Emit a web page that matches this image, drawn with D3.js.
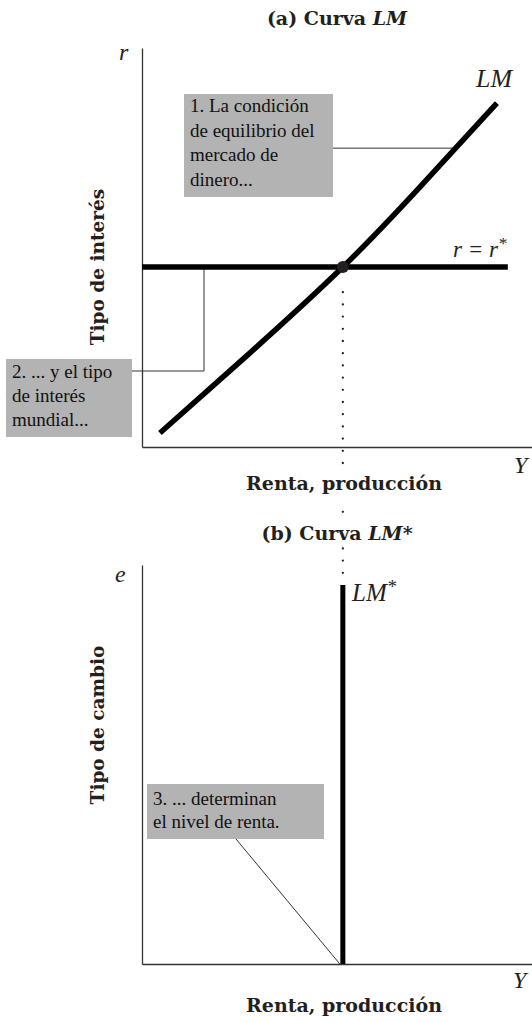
<!DOCTYPE html>
<html>
<head>
<meta charset="utf-8">
<script src="https://cdn.jsdelivr.net/npm/d3@7"></script>
<style>
  body { margin: 0; background: #fff; }
  svg { display: block; }
</style>
</head>
<body>
<svg id="chart" width="532" height="1022"></svg>
<script>
// ---- model values (income and rates on a 0–100 scale) ----
const lmIncome = [4.6, 27.7, 51.5, 71.3, 91.0];   // LM curve, income
const lmRate   = [3.5, 23.6, 45.1, 65.2, 86.2];   // LM curve, interest rate
const worldRate = 45.1;                            // r = r*
const worldRateSpan = [0, 93.8];                   // income extent of r*
const eqIncome = 51.5;                             // income where LM meets r*
const lmStarIncome = 51.5;                         // vertical LM* schedule
const lmStarSpan = [0, 95];                        // exchange-rate extent of LM*
const noteMoneyRate = 74.9;                        // rate where note 1 points at LM

// ---- text ----
const panelTitles = [["(a) Curva ", "LM", ""], ["(b) Curva ", "LM", "*"]];
const xTitle = "Renta, producción";
const yTitles = ["Tipo de interés", "Tipo de cambio"];
const noteMoney = ["1. La condición", "de equilibrio del", "mercado de", "dinero..."];
const noteWorld = ["2. ... y el tipo", "de interés", "mundial..."];
const noteIncome = ["3. ... determinan", "el nivel de renta."];

const SERIF = "'Liberation Serif', 'Times New Roman', serif";
const BOLD = "'DejaVu Serif', 'Liberation Serif', serif";
const INK = "#231f20";
const BOX = "#b3b3b3";

const svg = d3.select("#chart");

// shared income scale, one vertical scale per panel
const x = d3.scaleLinear().domain([0, 100]).range([142, 532]);
const yA = d3.scaleLinear().domain([0, 100]).range([447, 48]);
const yB = d3.scaleLinear().domain([0, 100]).range([964, 565]);

function drawAxes(y) {
  const bottom = y.range()[0];
  svg.append("g")
    .attr("transform", `translate(0,${bottom})`)
    .call(d3.axisBottom(x).ticks(0).tickSize(0).tickSizeOuter(0))
    .call(g => g.select(".domain").attr("stroke", "#333").attr("stroke-width", 1.3));
  svg.append("g")
    .attr("transform", `translate(${x(0)},0)`)
    .call(d3.axisLeft(y).ticks(0).tickSize(0).tickSizeOuter(0))
    .call(g => g.select(".domain").attr("stroke", "#333").attr("stroke-width", 1.3));
}
drawAxes(yA);
drawAxes(yB);

// dotted guide from the equilibrium down to LM*
svg.append("line")
  .attr("x1", x(eqIncome)).attr("x2", x(eqIncome))
  .attr("y1", yA(38.8)).attr("y2", yB(97.5))
  .attr("stroke", INK).attr("stroke-width", 2.3)
  .attr("stroke-linecap", "round")
  .attr("stroke-dasharray", "0 12.2");

// ---- annotation boxes ----
function note(lines, bx, by, bw, bh, firstBase, lineH) {
  svg.append("rect")
    .attr("x", bx).attr("y", by).attr("width", bw).attr("height", bh)
    .attr("fill", BOX);
  const t = svg.append("text")
    .attr("font-family", SERIF).attr("font-size", 19).attr("fill", "#111");
  lines.forEach((s, i) => {
    t.append("tspan").attr("x", bx + 6).attr("y", firstBase + i * lineH).text(s);
  });
}

// income on LM at a given rate (piecewise between the LM points)
function lmIncomeAt(rate) {
  const i = Math.max(1, d3.bisectLeft(lmRate, rate));
  const t = (rate - lmRate[i - 1]) / (lmRate[i] - lmRate[i - 1]);
  return lmIncome[i - 1] + t * (lmIncome[i] - lmIncome[i - 1]);
}

// leader 1: box to LM curve
svg.append("line")
  .attr("x1", 333).attr("y1", yA(noteMoneyRate))
  .attr("x2", x(lmIncomeAt(noteMoneyRate))).attr("y2", yA(noteMoneyRate))
  .attr("stroke", "#333").attr("stroke-width", 1);
note(noteMoney, 184, 94, 149, 103, 112, 24.5);

// leader 2: box to the r* line
svg.append("path")
  .attr("d", `M132,371H204V${yA(worldRate)}`)
  .attr("fill", "none").attr("stroke", "#333").attr("stroke-width", 1);
note(noteWorld, 6, 359, 126, 78, 378, 24);

// leader 3: box to LM* foot
svg.append("line")
  .attr("x1", 236).attr("y1", 839)
  .attr("x2", x(lmStarIncome) - 3).attr("y2", yB(0))
  .attr("stroke", "#333").attr("stroke-width", 1);
note(noteIncome, 147, 784, 177, 55, 805, 23);

// ---- panel (a): r = r* line, LM curve, equilibrium ----
svg.append("line")
  .attr("x1", x(worldRateSpan[0])).attr("x2", x(worldRateSpan[1]))
  .attr("y1", yA(worldRate)).attr("y2", yA(worldRate))
  .attr("stroke", "#000").attr("stroke-width", 5.5);

const lmLine = d3.line()
  .x((d, i) => x(lmIncome[i]))
  .y(d => yA(d))
  .curve(d3.curveNatural);
svg.append("path")
  .datum(lmRate)
  .attr("d", lmLine)
  .attr("fill", "none").attr("stroke", "#000").attr("stroke-width", 5.5);

svg.append("circle")
  .attr("cx", x(eqIncome)).attr("cy", yA(worldRate)).attr("r", 6)
  .attr("fill", INK);

// ---- panel (b): vertical LM* ----
svg.append("line")
  .attr("x1", x(lmStarIncome)).attr("x2", x(lmStarIncome))
  .attr("y1", yB(lmStarSpan[0])).attr("y2", yB(lmStarSpan[1]))
  .attr("stroke", "#000").attr("stroke-width", 5);

// ---- labels ----
function italic(txt, px, py, size, sup) {
  const t = svg.append("text")
    .attr("x", px).attr("y", py)
    .attr("font-family", SERIF).attr("font-style", "italic")
    .attr("font-size", size).attr("fill", INK).text(txt);
  if (sup) t.append("tspan").attr("dy", -8).attr("font-size", size * 0.75).text(sup);
  return t;
}
italic("r", 119, 60, 24);
italic("Y", 514, 473, 24);
italic("LM", 476, 87, 26);
italic("r = r", 453, 257, 23, "*");
italic("e", 115, 582, 24);
italic("Y", 513, 988, 24);
italic("LM", 352, 601, 25, "*");

// axis titles with a white backing so the guide dots stop behind them
function boldCentered(parts, cx, base, size, backing) {
  const t = svg.append("text")
    .attr("x", cx).attr("y", base)
    .attr("text-anchor", "middle")
    .attr("font-family", BOLD).attr("font-weight", "bold")
    .attr("font-size", size).attr("fill", INK);
  t.append("tspan").text(parts[0]);
  if (parts[1]) t.append("tspan").attr("font-style", "italic").text(parts[1]);
  if (parts[2]) t.append("tspan").attr("font-style", "italic").text(parts[2]);
  if (backing) {
    const bb = t.node().getBBox();
    svg.insert("rect", "text")
      .attr("x", bb.x - 2).attr("y", bb.y - 2)
      .attr("width", bb.width + 4).attr("height", bb.height + backing)
      .attr("fill", "#fff");
  }
}
boldCentered(panelTitles[0], 337, 25, 19);
boldCentered([xTitle], 344, 490, 19, 10);
boldCentered(panelTitles[1], 337, 540, 19, 2);
boldCentered([xTitle], 344, 1012, 19);

yTitles.forEach((s, i) => {
  const cy = i === 0 ? 267 : 725;
  svg.append("text")
    .attr("transform", `translate(104,${cy}) rotate(-90)`)
    .attr("text-anchor", "middle")
    .attr("font-family", BOLD).attr("font-weight", "bold")
    .attr("font-size", 18.5).attr("fill", INK)
    .text(s);
});
</script>
</body>
</html>
